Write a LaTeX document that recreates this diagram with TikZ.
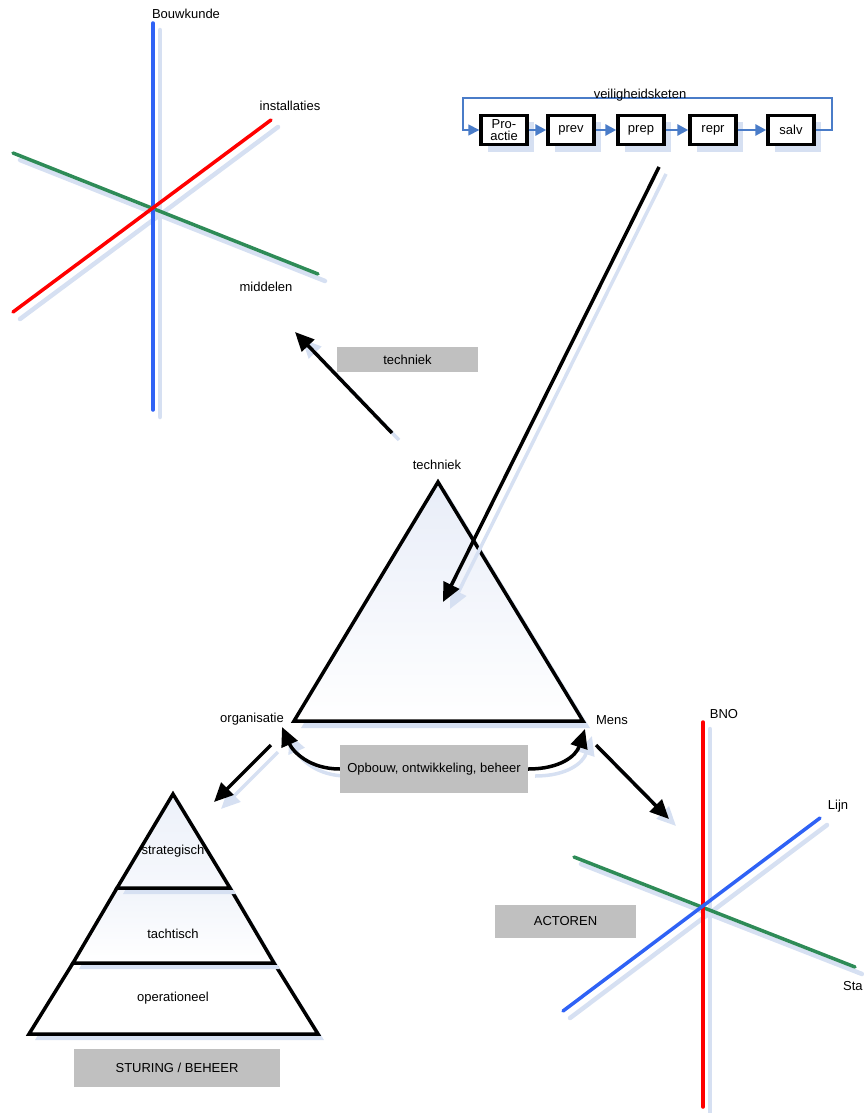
\documentclass[tikz,border=0pt]{standalone}
\usepackage{fontspec}
\setmainfont{Liberation Sans}
\usetikzlibrary{arrows.meta,shadows}
\definecolor{shad}{HTML}{D6E0F2}
\definecolor{chainblue}{HTML}{4A7CC8}
\definecolor{axblue}{HTML}{2F62F5}
\definecolor{axgreen}{HTML}{2E8B57}
\definecolor{boxgray}{HTML}{C0C0C0}
\definecolor{fillblue}{HTML}{E8EDF8}
\begin{document}
\begin{tikzpicture}[x=1pt,y=-1pt,
  lbl/.style={font=\fontsize{13}{14}\selectfont, inner sep=1pt},
  axis/.style={line width=3.5pt, line cap=round},
  axshadow/.style={line width=4.5pt, shad, line cap=round},
  bigarrow/.style={line width=3.5pt, -{Triangle[length=19pt,width=17pt]}},
  bigshadow/.style={line width=3.5pt, shad, -{Triangle[length=19pt,width=17pt]}},
  chainbox/.style={draw, line width=3.4pt, fill=white, minimum width=46pt, minimum height=29pt, inner sep=0pt, align=center, font=\fontsize{13}{12}\selectfont, drop shadow={shadow xshift=7pt, shadow yshift=-7pt, fill=shad, opacity=1}},
  chainarr/.style={chainblue, line width=2.6pt, -{Triangle[length=11pt,width=11pt]}},
  graybox/.style={fill=boxgray, inner sep=0pt, font=\fontsize{13}{14}\selectfont},
  tri/.style={line width=3.5pt, line join=miter},
]
\useasboundingbox (0,0) rectangle (863,1113);

% ---------- top-left axes ----------
\coordinate (bA) at (153,23);  \coordinate (bB) at (153,410);
\coordinate (rA) at (13,312);  \coordinate (rB) at (271,120);
\coordinate (gA) at (13,153);  \coordinate (gB) at (318,274);
\draw[axshadow] ([shift={(7,7)}]bA) -- ([shift={(7,7)}]bB);
\draw[axshadow] ([shift={(7,7)}]rA) -- ([shift={(7,7)}]rB);
\draw[axshadow] ([shift={(7,7)}]gA) -- ([shift={(7,7)}]gB);
\draw[axis, axgreen] (gA) -- (gB);
\draw[axis, axblue] (bA) -- (bB);
\draw[axis, red] (rA) -- (rB);
\node[lbl] (bouw) at (186,14) {Bouwkunde};
\node[lbl] (inst) at (290,106) {installaties};
\node[lbl] (midd) at (266,287) {middelen};

% ---------- veiligheidsketen ----------
\node[chainbox] (pro)  at (504,130) {Pro-\\actie};
\node[chainbox] (prev) at (571,130) {prev};
\node[chainbox] (prep) at (641,130) {prep};
\node[chainbox] (repr) at (713,130) {repr};
\node[chainbox] (salv) at (791,130) {salv};
\draw[chainarr] (pro) -- (prev);
\draw[chainarr] (prev) -- (prep);
\draw[chainarr] (prep) -- (repr);
\draw[chainarr] (repr) -- (salv);
\coordinate (fbR) at (832,98);
\coordinate (fbL) at (463,98);
\draw[chainarr, line width=1.6pt] (salv.east) -| (fbR) -- (fbL) |- (pro.west);
\node[lbl] (veil) at (640,95) {veiligheidsketen};

% ---------- central triangle ----------
\coordinate (tA) at (438,482);
\coordinate (tB) at (294,721);
\coordinate (tC) at (583,721);
\fill[shad] ([shift={(7,7)}]tA) -- ([shift={(7,7)}]tB) -- ([shift={(7,7)}]tC) -- cycle;
\shade[top color=fillblue, bottom color=white] (tA) -- (tB) -- (tC) -- cycle;
\draw[tri] (tA) -- (tB) -- (tC) -- cycle;
\node[lbl] (tech) at (437,465) {techniek};
\node[lbl] (org) at (252,719) {organisatie};
\node[lbl] (mens) at (612,720) {Mens};

% long arrow from chain to triangle
\coordinate (la1) at (659,167); \coordinate (la2) at (443,602);
\draw[bigshadow] ([shift={(7,7)}]la1) -- ([shift={(7,7)}]la2);
\draw[bigarrow] (la1) -- (la2);

% techniek arrow
\coordinate (ta1) at (392,433); \coordinate (ta2) at (295,332);
\draw[bigshadow] ([shift={(7,7)}]ta1) -- ([shift={(7,7)}]ta2);
\draw[bigarrow] (ta1) -- (ta2);
\node[graybox, minimum width=141pt, minimum height=25pt] (techbox) at (407.5,359.5) {techniek};

% Opbouw box and curved arrows
\node[graybox, minimum width=188pt, minimum height=48pt] (opb) at (434,769) {};
\coordinate (oL) at (282,727);
\coordinate (oR) at (585,729);
\draw[bigshadow] ([shift={(7,7)}]opb.west) .. controls ([shift={(7,7)}]310,769) and ([shift={(7,7)}]293,752) .. ([shift={(7,7)}]oL);
\draw[bigshadow] ([shift={(7,7)}]opb.east) .. controls ([shift={(7,7)}]560,769) and ([shift={(7,7)}]576,756) .. ([shift={(7,7)}]oR);
\node[graybox, minimum width=188pt, minimum height=48pt] (opb2) at (434,769) {};
\draw[bigarrow] (opb.west) .. controls (310,769) and (293,752) .. (oL);
\draw[bigarrow] (opb.east) .. controls (560,769) and (576,756) .. (oR);
\node[lbl, fill=boxgray, inner sep=1pt] (opbt) at (434,769) {Opbouw, ontwikkeling, beheer};

% organisatie -> pyramid
\coordinate (pa1) at (271,745); \coordinate (pa2) at (214,802);
\draw[bigshadow] ([shift={(7,7)}]pa1) -- ([shift={(7,7)}]pa2);
\draw[bigarrow] (pa1) -- (pa2);

% Mens -> actoren
\coordinate (ma1) at (596,745); \coordinate (ma2) at (669,819);
\draw[bigshadow] ([shift={(7,7)}]ma1) -- ([shift={(7,7)}]ma2);
\draw[bigarrow] (ma1) -- (ma2);

% ---------- pyramid ----------
\coordinate (pA) at (173,794);
\coordinate (pL1) at (117,888); \coordinate (pR1) at (230,888);
\coordinate (pL2) at (73,963);  \coordinate (pR2) at (274,963);
\coordinate (pL3) at (29,1034); \coordinate (pR3) at (318,1034);
% bottom
\fill[shad] ([shift={(6,6)}]pL2) -- ([shift={(6,6)}]pR2) -- ([shift={(6,6)}]pR3) -- ([shift={(6,6)}]pL3) -- cycle;
\fill[white] (pL2) -- (pR2) -- (pR3) -- (pL3) -- cycle;
\draw[tri] (pL2) -- (pR2) -- (pR3) -- (pL3) -- cycle;
% middle
\fill[shad] ([shift={(6,6)}]pL1) -- ([shift={(6,6)}]pR1) -- ([shift={(6,6)}]pR2) -- ([shift={(6,6)}]pL2) -- cycle;
\shade[top color=fillblue!60, bottom color=white] (pL1) -- (pR1) -- (pR2) -- (pL2) -- cycle;
\draw[tri] (pL1) -- (pR1) -- (pR2) -- (pL2) -- cycle;
% top
\fill[shad] ([shift={(6,6)}]pA) -- ([shift={(6,6)}]pR1) -- ([shift={(6,6)}]pL1) -- cycle;
\shade[top color=fillblue!80, bottom color=fillblue!40] (pA) -- (pR1) -- (pL1) -- cycle;
\draw[tri] (pA) -- (pR1) -- (pL1) -- cycle;
\node[lbl] (strat) at (173,851) {strategisch};
\node[lbl] (tacht) at (173,934) {tachtisch};
\node[lbl] (oper) at (173,998) {operationeel};
\node[graybox, minimum width=206pt, minimum height=38pt] (stur) at (177,1068) {STURING / BEHEER};

% ---------- bottom-right axes ----------
\coordinate (RA) at (703,722);  \coordinate (RB) at (703,1107);
\coordinate (LA) at (563,1011); \coordinate (LB) at (820,818);
\coordinate (GA) at (574,857);  \coordinate (GB) at (855,967);
\draw[axshadow] ([shift={(7,7)}]RA) -- ([shift={(7,7)}]RB);
\draw[axshadow] ([shift={(7,7)}]LA) -- ([shift={(7,7)}]LB);
\draw[axshadow] ([shift={(7,7)}]GA) -- ([shift={(7,7)}]GB);
\node[graybox, minimum width=141pt, minimum height=33pt] (act) at (565.5,921.5) {ACTOREN};
\draw[axis, axgreen] (GA) -- (GB);
\draw[axis, red] (RA) -- (RB);
\draw[axis, axblue] (LA) -- (LB);
\node[lbl] (bno) at (724,714) {BNO};
\node[lbl] (lijn) at (838,806) {Lijn};
\node[lbl, anchor=west, inner sep=0pt] (staf) at (843,986) {Sta};
\end{tikzpicture}
\end{document}
